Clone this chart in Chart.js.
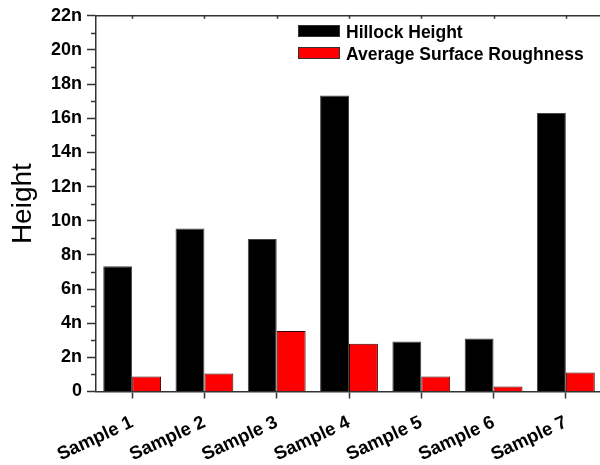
<!DOCTYPE html>
<html>
<head>
<meta charset="utf-8">
<script src="https://cdn.jsdelivr.net/npm/chart.js@4/dist/chart.umd.min.js"></script>
<style>
  html, body { margin: 0; padding: 0; background: #fff; overflow: hidden; }
  #wrap { position: absolute; left: 0; top: 0; width: 610px; height: 465px; }
</style>
</head>
<body>
<div id="wrap"><canvas id="c" width="610" height="465"></canvas></div>
<script>
// Measured values, in nanometres
const samples = ['Sample 1', 'Sample 2', 'Sample 3', 'Sample 4', 'Sample 5', 'Sample 6', 'Sample 7'];
const hillockHeight = [7.33, 9.55, 8.93, 17.33, 2.93, 3.11, 16.31];
const surfaceRoughness = [0.88, 1.05, 3.54, 2.80, 0.88, 0.29, 1.11];
const yMajorTicks = [0, 2, 4, 6, 8, 10, 12, 14, 16, 18, 20, 22];
const yMinorTicks = [1, 3, 5, 7, 9, 11, 13, 15, 17, 19, 21];

const FONT = '"Liberation Sans", Arial, Helvetica, sans-serif';
const AXIS = '#333333';

// Minor ticks on the value axis, inward ticks on the top frame, and the legend box
const framePlugin = {
  id: 'frameDetails',
  afterDraw(chart) {
    const ctx = chart.ctx;
    const y = chart.scales.y;
    const xTop = chart.scales.x2;
    ctx.save();
    ctx.strokeStyle = AXIS;
    ctx.lineWidth = 1.5;
    ctx.beginPath();
    yMinorTicks.forEach(v => {
      const py = Math.round(y.getPixelForValue(v)) + 0.5;
      ctx.moveTo(y.right - 5, py);
      ctx.lineTo(y.right, py);
    });
    samples.forEach((s, i) => {
      const px = Math.round(xTop.getPixelForValue(i)) + 0.5;
      ctx.moveTo(px, chart.chartArea.top);
      ctx.lineTo(px, chart.chartArea.top + 3);
    });
    ctx.stroke();

    // legend
    ctx.font = 'bold 17.5px ' + FONT;
    ctx.textBaseline = 'alphabetic';
    ctx.textAlign = 'left';
    chart.data.datasets.forEach((ds, i) => {
      const bx = 298, by = 25 + 22 * i;
      ctx.fillStyle = ds.backgroundColor;
      ctx.fillRect(bx, by, 42, 12);
      ctx.strokeStyle = '#333';
      ctx.lineWidth = 1;
      ctx.strokeRect(bx + 0.5, by + 0.5, 41, 11);
      ctx.fillStyle = '#000';
      ctx.fillText(ds.label, 346, by + 13);
    });
    ctx.restore();
  }
};

new Chart(document.getElementById('c'), {
  type: 'bar',
  data: {
    labels: samples,
    datasets: [
      {
        label: 'Hillock Height',
        data: hillockHeight,
        backgroundColor: '#000000',
        borderColor: '#444444',
        borderWidth: 1,
        categoryPercentage: 0.8,
        barPercentage: 1.0
      },
      {
        label: 'Average Surface Roughness',
        data: surfaceRoughness,
        backgroundColor: '#ff0000',
        borderColor: '#3a0000',
        borderWidth: 1,
        categoryPercentage: 0.8,
        barPercentage: 1.0
      }
    ]
  },
  options: {
    responsive: false,
    animation: false,
    devicePixelRatio: 1,
    layout: { padding: { left: 0, top: 0, right: 8, bottom: 0 } },
    plugins: {
      legend: { display: false },
      tooltip: { enabled: false }
    },
    scales: {
      x: {
        type: 'category',
        position: 'bottom',
        offset: true,
        grid: {
          display: true,
          drawOnChartArea: false,
          offset: false,
          tickLength: 7,
          tickColor: AXIS,
          tickWidth: 1.5
        },
        border: { display: true, color: AXIS, width: 1.5 },
        ticks: {
          autoSkip: false,
          minRotation: 25,
          maxRotation: 25,
          padding: 13,
          color: '#000',
          font: { family: FONT, weight: 'bold', size: 18.5 }
        },
        afterFit(s) { s.height = 73.5; }
      },
      x2: {
        type: 'category',
        axis: 'x',
        position: 'top',
        labels: samples,
        offset: true,
        grid: { display: false },
        border: { display: true, color: AXIS, width: 1.5 },
        ticks: { display: false },
        afterFit(s) { s.height = 14; }
      },
      y: {
        min: 0,
        max: 22,
        afterBuildTicks(s) { s.ticks = yMajorTicks.map(v => ({ value: v })); },
        grid: {
          drawOnChartArea: false,
          tickLength: 9,
          tickColor: AXIS,
          tickWidth: 1.5
        },
        border: { display: true, color: AXIS, width: 1.5 },
        ticks: {
          padding: 5,
          color: '#000',
          font: { family: FONT, weight: 'bold', size: 18 },
          callback: v => (v === 0 ? '0' : v + 'n')
        },
        title: {
          display: true,
          text: 'Height',
          color: '#000',
          font: { family: FONT, size: 28, weight: 'normal' },
          padding: { top: 6, bottom: 0 }
        },
        afterFit(s) { s.width = 96; }
      }
    }
  },
  plugins: [framePlugin]
});
</script>
</body>
</html>
